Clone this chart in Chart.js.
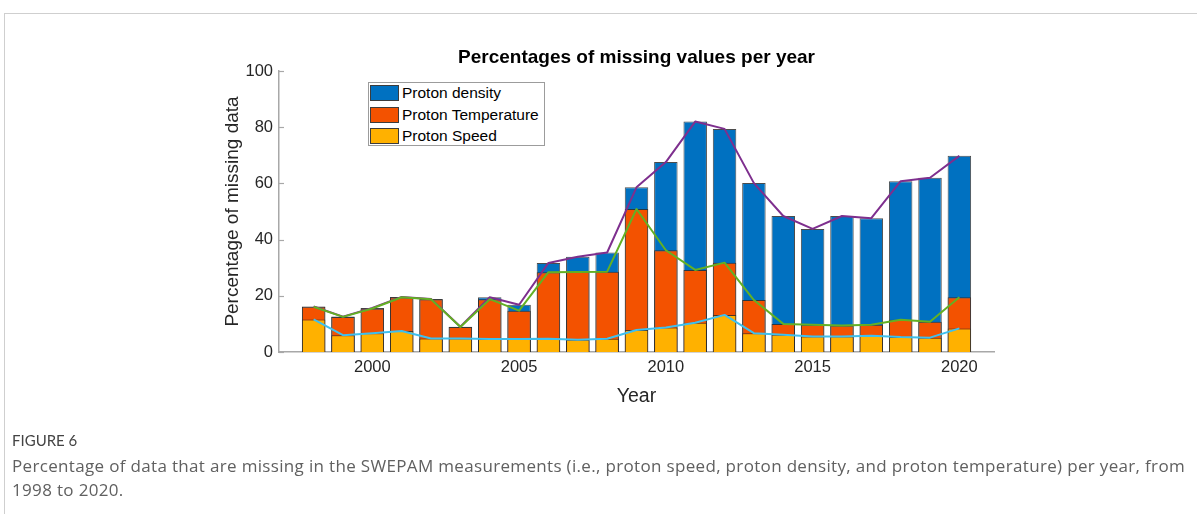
<!DOCTYPE html>
<html>
<head>
<meta charset="utf-8">
<script src="https://cdn.jsdelivr.net/npm/chart.js@4.4.1/dist/chart.umd.min.js"></script>
<style>
  html, body { margin: 0; padding: 0; background: #fff; }
  body { width: 1197px; height: 514px; position: relative; overflow: hidden; font-family: "Liberation Sans", Arial, sans-serif; }
  #frame { position: absolute; left: 4px; top: 13px; right: -4px; bottom: -4px; border-top: 1px solid #cfcfcf; border-left: 1px solid #cfcfcf; }
  #chart { position: absolute; left: 0; top: 0; }
  .legend { position: absolute; left: 368px; top: 82px; width: 177px; height: 64px; box-sizing: border-box; border: 1px solid #9c9c9c; background: #fff; }
  .legend .row { position: absolute; left: 1px; height: 16px; display: flex; align-items: center; white-space: nowrap; }
  .legend .sw { width: 29px; height: 16px; box-sizing: border-box; border: 1px solid #3c3c3c; flex: none; }
  .legend .tx { margin-left: 3px; font-size: 15.5px; color: #000; line-height: 16px; }
  .fig-label { position: absolute; left: 12px; top: 431px; font-family: Lato, "Open Sans", sans-serif; font-size: 15px; color: #444; }
  .fig-text { position: absolute; left: 12px; top: 454px; font-family: "Open Sans", Lato, sans-serif; font-size: 17px; letter-spacing: 0.33px; line-height: 24px; color: #606060; white-space: nowrap; }
</style>
</head>
<body>
<div id="frame"></div>
<canvas id="chart" width="1197" height="514"></canvas>
<div class="legend" id="legend"></div>
<div class="fig-label">FIGURE 6</div>
<div class="fig-text">Percentage of data that are missing in the SWEPAM measurements (i.e., proton speed, proton density, and proton temperature) per year, from<br>1998 to 2020.</div>
<script>
// Years covered by the SWEPAM record
const years = [1998, 1999, 2000, 2001, 2002, 2003, 2004, 2005, 2006, 2007, 2008, 2009,
               2010, 2011, 2012, 2013, 2014, 2015, 2016, 2017, 2018, 2019, 2020];

// Percentage of missing values per year (bar top for each quantity)
const densityPct     = [16.2, 12.6, 15.7, 19.6, 18.9, 9.0, 19.5, 16.8, 31.7, 33.9, 35.4, 58.6,
                        67.6, 82.0, 79.4, 60.1, 48.4, 43.8, 48.4, 47.6, 60.8, 62.0, 69.8];
const temperaturePct = [16.1, 12.5, 15.5, 19.5, 18.8, 8.9, 18.8, 14.7, 28.4, 28.5, 28.6, 50.9,
                        36.2, 29.2, 31.8, 18.5, 10.0, 9.7, 9.4, 9.7, 11.5, 10.8, 19.5];
const speedPct       = [11.6, 6.0, 6.7, 7.5, 4.8, 4.8, 4.6, 4.6, 4.7, 4.4, 4.7, 7.8,
                        8.7, 10.4, 13.2, 6.7, 6.1, 5.5, 5.5, 5.8, 5.3, 5.1, 8.4];

// Axis tick labels
const xTickYears = [2000, 2005, 2010, 2015, 2020];
const yTickValues = [0, 20, 40, 60, 80, 100];

const seriesNames = ['Proton density', 'Proton Temperature', 'Proton Speed'];

const BLUE = '#0071c1', ORANGE = '#f35200', YELLOW = '#ffb100';
const PURPLE = '#7e2f8e', GREEN = '#63b024', CYAN = '#3ec0ee';
const AXIS = '#a8a8a8', TEXT = '#262626';
const FONT = '"Liberation Sans", Arial, sans-serif';

const pts = arr => years.map((yr, i) => ({ x: yr, y: arr[i] }));

const barStyle = (color) => ({
  type: 'bar', backgroundColor: color, borderColor: 'rgba(45,45,45,0.85)', borderWidth: 1,
  borderSkipped: 'start', grouped: false, barPercentage: 0.8, categoryPercentage: 1.0
});
const lineStyle = (color) => ({
  type: 'line', borderColor: color, borderWidth: 2, pointRadius: 0, tension: 0, fill: false,
  borderJoinStyle: 'round'
});

const datasets = [
  Object.assign({ label: 'speed line', data: pts(speedPct), order: 0 }, lineStyle(CYAN)),
  Object.assign({ label: 'temperature line', data: pts(temperaturePct), order: 1 }, lineStyle(GREEN)),
  Object.assign({ label: 'density line', data: pts(densityPct), order: 2 }, lineStyle(PURPLE)),
  Object.assign({ label: seriesNames[2], data: pts(speedPct), order: 3 }, barStyle(YELLOW)),
  Object.assign({ label: seriesNames[1], data: pts(temperaturePct), order: 4 }, barStyle(ORANGE)),
  Object.assign({ label: seriesNames[0], data: pts(densityPct), order: 5 }, barStyle(BLUE))
];

// Inward tick marks on the y axis
const inwardTicks = {
  id: 'inwardTicks',
  beforeDatasetsDraw(chart) {
    const { ctx, chartArea, scales } = chart;
    ctx.save();
    ctx.strokeStyle = AXIS;
    ctx.lineWidth = 1.2;
    yTickValues.forEach(v => {
      const y = Math.round(scales.y.getPixelForValue(v)) + 0.5;
      ctx.beginPath();
      ctx.moveTo(chartArea.left, y);
      ctx.lineTo(chartArea.left + 5, y);
      ctx.stroke();
    });
    ctx.restore();
  }
};

// Title and axis titles
const titles = {
  id: 'titles',
  afterDraw(chart) {
    const { ctx, chartArea } = chart;
    const cx = (chartArea.left + chartArea.right) / 2;
    ctx.save();
    ctx.fillStyle = '#000';
    ctx.textAlign = 'center';
    ctx.textBaseline = 'alphabetic';
    ctx.font = 'bold 19px ' + FONT;
    ctx.fillText('Percentages of missing values per year', cx, 62.5);
    ctx.fillStyle = TEXT;
    ctx.font = '19.5px ' + FONT;
    ctx.fillText('Year', cx, 402);
    ctx.font = '19px ' + FONT;
    ctx.translate(238, (chartArea.top + chartArea.bottom) / 2);
    ctx.rotate(-Math.PI / 2);
    ctx.fillText('Percentage of missing data', 0, 0);
    ctx.restore();
  }
};

const chart = new Chart(document.getElementById('chart'), {
  type: 'bar',
  data: { datasets },
  options: {
    responsive: false,
    devicePixelRatio: 1,
    animation: false,
    events: [],
    layout: { padding: { left: 219, right: 203, top: 71, bottom: 122 } },
    plugins: { legend: { display: false }, title: { display: false }, tooltip: { enabled: false } },
    scales: {
      x: {
        type: 'linear', min: 1996.82, max: 2021.18, offset: false,
        afterFit: s => { s.height = 40; },
        afterBuildTicks: s => { s.ticks = xTickYears.map(v => ({ value: v })); },
        grid: { display: false, drawTicks: false },
        border: { display: true, color: AXIS, width: 1.5 },
        ticks: { padding: 6, color: TEXT, font: { family: FONT, size: 16.5 }, maxRotation: 0, callback: v => String(v) }
      },
      y: {
        type: 'linear', min: 0, max: 100,
        afterFit: s => { s.width = 60; },
        afterBuildTicks: s => { s.ticks = yTickValues.map(v => ({ value: v })); },
        grid: { display: false, drawTicks: false },
        border: { display: true, color: AXIS, width: 1.5 },
        ticks: { padding: 6, color: TEXT, font: { family: FONT, size: 16.5 } }
      }
    }
  },
  plugins: [inwardTicks, titles]
});

// Legend built from the bar datasets
const legendEl = document.getElementById('legend');
const legendColors = [BLUE, ORANGE, YELLOW];
const rowTops = [2, 23.5, 45];
seriesNames.forEach((name, i) => {
  const row = document.createElement('div');
  row.className = 'row';
  row.style.top = rowTops[i] + 'px';
  const sw = document.createElement('div');
  sw.className = 'sw';
  sw.style.background = legendColors[i];
  const tx = document.createElement('span');
  tx.className = 'tx';
  tx.textContent = name;
  row.appendChild(sw);
  row.appendChild(tx);
  legendEl.appendChild(row);
});
</script>
</body>
</html>
